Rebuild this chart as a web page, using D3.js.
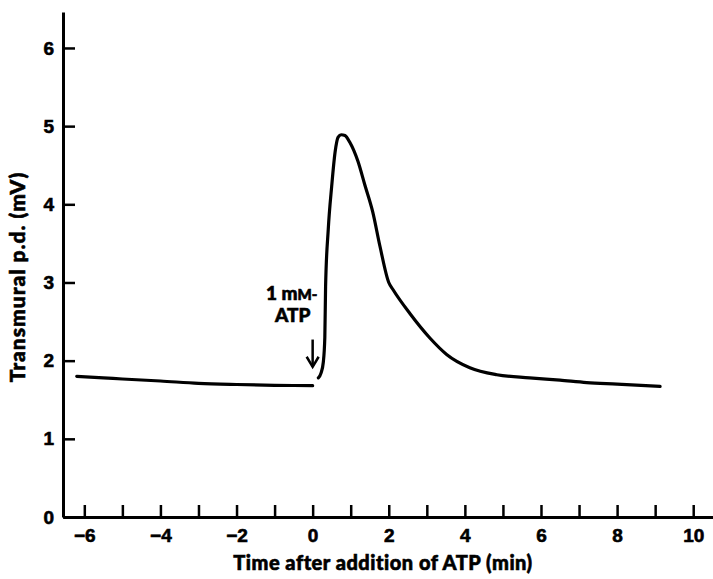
<!DOCTYPE html>
<html>
<head>
<meta charset="utf-8">
<script src="https://cdn.jsdelivr.net/npm/d3@7"></script>
<style>
  body { margin: 0; background: #fff; }
  svg { display: block; font-family: Lato, "Open Sans", sans-serif; font-weight: 900; }
  svg text { stroke: #000; stroke-width: 0.6px; paint-order: stroke; }
</style>
</head>
<body>
<div id="chart"></div>
<script>
// baseline recording before ATP (time in min, p.d. in mV)
const baseTime = [-6.2, -5.5, -5, -4, -3, -2, -1, 0]
const baseValue = [1.80, 1.78, 1.765, 1.74, 1.71, 1.695, 1.685, 1.68]

// response after 1 mM ATP
const respTime = [0.15, 0.22, 0.28, 0.32, 0.34, 0.41, 0.5, 0.59, 0.67, 0.75, 0.85, 0.98,
  1.19, 1.37, 1.58, 1.77, 2.0, 2.11, 2.56, 3.08, 3.52, 4.13, 4.84, 5.7, 6.5, 7.2, 8.0, 9.13]
const respValue = [1.78, 1.84, 1.98, 2.3, 2.95, 3.68, 4.23, 4.67, 4.86, 4.89, 4.88, 4.79,
  4.55, 4.25, 3.9, 3.46, 3.0, 2.91, 2.6, 2.29, 2.08, 1.91, 1.82, 1.78, 1.75, 1.72, 1.70, 1.67]

const xTicks = d3.range(-6, 11)
const yTicks = [0, 1, 2, 3, 4, 5, 6]

const width = 713
const height = 579
const marginLeft = 63
const marginBottom = 62   // x-axis sits at 517
const marginTop = 12

const x = d3.scaleLinear([-6.56, 10.52], [marginLeft, width])
const y = d3.scaleLinear([0, 6.46], [height - marginBottom, marginTop])

const svg = d3.select("#chart").append("svg")
  .attr("width", width)
  .attr("height", height)
  .attr("viewBox", [0, 0, width, height])

// x axis, inward ticks every minute, labels on even values
svg.append("g")
  .attr("transform", `translate(0,${y(0)})`)
  .call(d3.axisBottom(x).tickValues(xTicks).tickSizeInner(-12).tickSizeOuter(0).tickPadding(12)
    .tickFormat(d => d % 2 === 0 ? d3.format("d")(d) : ""))
  .call(g => g.select(".domain").attr("stroke-width", 3))
  .call(g => g.selectAll(".tick line").attr("stroke-width", 2.5))
  .call(g => g.selectAll(".tick text").attr("font-size", 19).attr("fill", "#000"))

// y axis
svg.append("g")
  .attr("transform", `translate(${marginLeft},0)`)
  .call(d3.axisLeft(y).tickValues(yTicks).tickSizeInner(-12).tickSizeOuter(0).tickPadding(9)
    .tickFormat(d3.format("d")))
  .call(g => g.select(".domain").attr("stroke-width", 3))
  .call(g => g.selectAll(".tick line").attr("stroke-width", 2.5))
  .call(g => g.selectAll(".tick text").attr("font-size", 19).attr("fill", "#000"))

const line = d3.line()
  .x(d => x(d[0]))
  .y(d => y(d[1]))
  .curve(d3.curveMonotoneX)

svg.append("path")
  .datum(d3.zip(baseTime, baseValue))
  .attr("fill", "none")
  .attr("stroke", "#000")
  .attr("stroke-width", 3.2)
  .attr("stroke-linecap", "round")
  .attr("d", line)

svg.append("path")
  .datum(d3.zip(respTime, respValue))
  .attr("fill", "none")
  .attr("stroke", "#000")
  .attr("stroke-width", 3.2)
  .attr("stroke-linecap", "round")
  .attr("stroke-linejoin", "round")
  .attr("d", line)

// ATP addition marker
const ax = x(0)
svg.append("line")
  .attr("x1", ax).attr("x2", ax)
  .attr("y1", y(2.27)).attr("y2", y(1.92))
  .attr("stroke", "#000").attr("stroke-width", 2.5)
svg.append("path")
  .attr("d", `M${ax - 6},${y(2.05)} L${ax},${y(1.92)} L${ax + 6},${y(2.05)}`)
  .attr("fill", "none").attr("stroke", "#000").attr("stroke-width", 2.5)

const note = svg.append("text")
  .attr("x", ax - 21).attr("y", y(2.78))
  .attr("text-anchor", "middle")
  .attr("font-size", 19)
note.append("tspan").text("1 m")
note.append("tspan").attr("font-size", 15).text("M-")
svg.append("text")
  .attr("x", ax - 20).attr("y", y(2.5))
  .attr("text-anchor", "middle")
  .attr("font-size", 19)
  .text("ATP")

// axis titles
svg.append("text")
  .attr("x", 383).attr("y", 570)
  .attr("text-anchor", "middle")
  .attr("font-size", 20)
  .attr("letter-spacing", 0.5)
  .text("Time after addition of ATP (min)")

svg.append("text")
  .attr("transform", `translate(25,277) rotate(-90)`)
  .attr("text-anchor", "middle")
  .attr("font-size", 21)
  .attr("letter-spacing", 1)
  .text("Transmural p.d. (mV)")
</script>
</body>
</html>
